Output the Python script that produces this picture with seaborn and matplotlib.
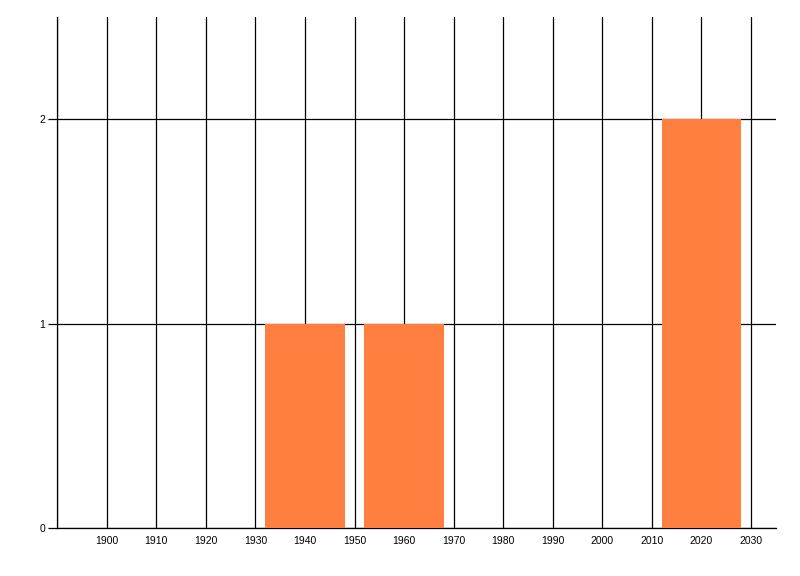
import pandas as pd
import seaborn as sns
import matplotlib.pyplot as plt
from matplotlib.ticker import MultipleLocator

# values
years = [1940, 1960, 2020]
counts = [1, 1, 2]
x_ticks = list(range(1900, 2031, 10))
y_ticks = [0, 1, 2]

sns.set_style('white')
plt.rcParams['font.family'] = ['Liberation Sans', 'DejaVu Sans']

df = pd.DataFrame({'Year': years, 'Count': counts})

fig = plt.figure(figsize=(8, 5.76), dpi=100)
ax = fig.add_axes([0.0716, 0.0833, 0.8980, 0.8866])

sns.barplot(data=df, x='Year', y='Count', native_scale=True, width=0.8,
            color='#FF7F40', saturation=1, linewidth=0, ax=ax, zorder=3)

ax.set_xlim(1890, 2035)
ax.set_ylim(0, 2.5)

# grid: every decade vertically, each whole count horizontally
ax.xaxis.set_minor_locator(MultipleLocator(10))
ax.set_xticks(x_ticks)
ax.set_yticks(y_ticks)
ax.grid(True, which='both', axis='x', color='black', linewidth=0.9)
ax.grid(True, which='major', axis='y', color='black', linewidth=0.9)
ax.set_axisbelow(True)

ax.tick_params(axis='x', which='both', length=0, pad=6, labelsize=7.5,
               colors='black')
ax.tick_params(axis='y', length=6.5, width=0.9, pad=2, labelsize=7.5,
               colors='black', left=True)
ax.set_xlabel('')
ax.set_ylabel('')

sns.despine(ax=ax, top=True, right=True)
for side in ['left', 'bottom']:
    ax.spines[side].set_color('black')
    ax.spines[side].set_linewidth(0.9)

plt.savefig('out.png', dpi=100)
plt.close()
